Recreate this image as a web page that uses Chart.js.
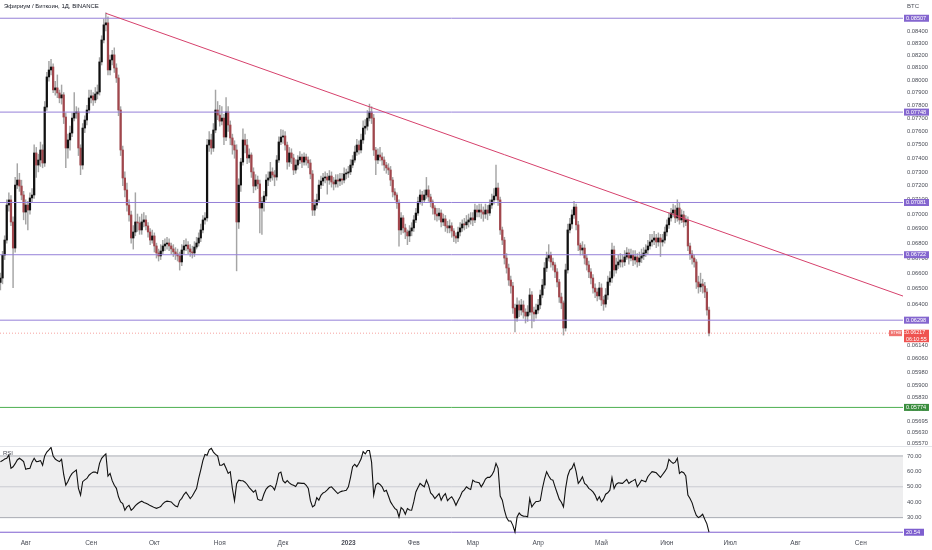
<!DOCTYPE html>
<html>
<head>
<meta charset="utf-8">
<script src="https://cdn.jsdelivr.net/npm/chart.js@4.4.0/dist/chart.umd.min.js"></script>
<style>
  html, body { margin: 0; padding: 0; background: #fff; }
</style>
</head>
<body>
<canvas id="chart" width="932" height="550"></canvas>
<script>
// daily candles, day numbers counted from 1 Aug 2022
const firstDay = -12;
const firstOpen = 0.06540;

const closes = [
  0.06568, 0.06720, 0.06821, 0.07063, 0.07099, 0.06945, 0.06767, 0.07205, 0.07241, 0.07198,
  0.07134, 0.07014, 0.07063, 0.07028, 0.07113, 0.07134, 0.07439, 0.07350, 0.07387, 0.07461,
  0.07365, 0.07787, 0.08024, 0.08080, 0.08104, 0.07921, 0.07937, 0.07897, 0.07858, 0.07882,
  0.07710, 0.07476, 0.07536, 0.07588, 0.07702, 0.07741, 0.07749, 0.07476, 0.07350, 0.07626,
  0.07687, 0.07764, 0.07858, 0.07874, 0.07842, 0.07889, 0.07905, 0.08145, 0.08325, 0.08451,
  0.08468, 0.08080, 0.08161, 0.08202, 0.08096, 0.08016, 0.07764, 0.07461, 0.07256, 0.07170,
  0.07063, 0.06994, 0.06835, 0.06876, 0.06945, 0.06938, 0.06890, 0.06945, 0.06959, 0.06918,
  0.06876, 0.06821, 0.06849, 0.06781, 0.06734, 0.06714, 0.06747, 0.06781, 0.06794, 0.06801,
  0.06781, 0.06761, 0.06741, 0.06727, 0.06714, 0.06674, 0.06754, 0.06781, 0.06787, 0.06761,
  0.06741, 0.06734, 0.06774, 0.06801, 0.06835, 0.06890, 0.06959, 0.06973, 0.07498, 0.07536,
  0.07476, 0.07611, 0.07764, 0.07725, 0.07679, 0.07702, 0.07558, 0.07749, 0.07649, 0.07551,
  0.07498, 0.07461, 0.06945, 0.07205, 0.07372, 0.07536, 0.07498, 0.07402, 0.07424, 0.07300,
  0.07198, 0.07241, 0.07213, 0.07042, 0.07085, 0.07127, 0.07241, 0.07256, 0.07300, 0.07278,
  0.07263, 0.07387, 0.07521, 0.07558, 0.07566, 0.07498, 0.07372, 0.07439, 0.07402, 0.07314,
  0.07350, 0.07387, 0.07409, 0.07372, 0.07409, 0.07387, 0.07365, 0.07285, 0.07028, 0.07063,
  0.07099, 0.07205, 0.07234, 0.07256, 0.07263, 0.07241, 0.07270, 0.07227, 0.07213, 0.07241,
  0.07234, 0.07249, 0.07241, 0.07285, 0.07292, 0.07300, 0.07350, 0.07387, 0.07446, 0.07498,
  0.07461, 0.07536, 0.07626, 0.07640, 0.07702, 0.07749, 0.07702, 0.07461, 0.07387, 0.07424,
  0.07409, 0.07387, 0.07350, 0.07329, 0.07314, 0.07241, 0.07156, 0.07134, 0.07077, 0.06890,
  0.06973, 0.06904, 0.06876, 0.06849, 0.06883, 0.06904, 0.06959, 0.07007, 0.07085, 0.07134,
  0.07099, 0.07134, 0.07170, 0.07120, 0.07085, 0.07042, 0.07000, 0.06987, 0.07007, 0.06945,
  0.06966, 0.06918, 0.06904, 0.06918, 0.06883, 0.06849, 0.06835, 0.06876, 0.06904, 0.06931,
  0.06925, 0.06945, 0.06959, 0.06973, 0.06959, 0.07028, 0.07014, 0.07028, 0.07014, 0.07000,
  0.07028, 0.07007, 0.07063, 0.07099, 0.07127, 0.07184, 0.07099, 0.06890, 0.06821, 0.06700,
  0.06634, 0.06555, 0.06516, 0.06375, 0.06312, 0.06394, 0.06362, 0.06394, 0.06349, 0.06324,
  0.06349, 0.06458, 0.06349, 0.06337, 0.06362, 0.06394, 0.06458, 0.06522, 0.06634, 0.06700,
  0.06720, 0.06674, 0.06654, 0.06608, 0.06542, 0.06445, 0.06407, 0.06249, 0.06621, 0.06890,
  0.06931, 0.06994, 0.07049, 0.06925, 0.06787, 0.06754, 0.06767, 0.06700, 0.06654, 0.06608,
  0.06568, 0.06503, 0.06477, 0.06452, 0.06503, 0.06426, 0.06400, 0.06458, 0.06542, 0.06568,
  0.06754, 0.06621, 0.06654, 0.06674, 0.06687, 0.06674, 0.06707, 0.06734, 0.06700, 0.06720,
  0.06687, 0.06707, 0.06674, 0.06700, 0.06714, 0.06734, 0.06754, 0.06781, 0.06808, 0.06821,
  0.06835, 0.06808, 0.06835, 0.06808, 0.06821, 0.06876, 0.06925, 0.06973, 0.07007, 0.07028,
  0.06973, 0.07042, 0.06959, 0.06994, 0.06945, 0.06959, 0.06781, 0.06727, 0.06700, 0.06674,
  0.06542, 0.06510, 0.06529, 0.06516, 0.06477, 0.06362, 0.06217
];

const highs = [
  0.06600, 0.06745, 0.06850, 0.07100, 0.07150, 0.07130, 0.06980, 0.07260, 0.07360, 0.07290,
  0.07240, 0.07160, 0.07100, 0.07090, 0.07150, 0.07180, 0.07500, 0.07480, 0.07430, 0.07520,
  0.07500, 0.07830, 0.08060, 0.08150, 0.08165, 0.08130, 0.07990, 0.08040, 0.07920, 0.07960,
  0.07900, 0.07740, 0.07580, 0.07640, 0.07740, 0.07900, 0.07790, 0.07780, 0.07500, 0.07660,
  0.07720, 0.07800, 0.07920, 0.07920, 0.07900, 0.07940, 0.07960, 0.08180, 0.08360, 0.08500,
  0.08554, 0.08520, 0.08200, 0.08240, 0.08260, 0.08130, 0.08040, 0.07790, 0.07490, 0.07300,
  0.07220, 0.07100, 0.07020, 0.06920, 0.07150, 0.07000, 0.06980, 0.07000, 0.07010, 0.06990,
  0.06940, 0.06900, 0.06890, 0.06870, 0.06800, 0.06760, 0.06790, 0.06820, 0.06830, 0.06840,
  0.06830, 0.06800, 0.06790, 0.06770, 0.06760, 0.06740, 0.06790, 0.06820, 0.06830, 0.06810,
  0.06790, 0.06780, 0.06810, 0.06840, 0.06870, 0.06930, 0.06990, 0.07010, 0.07540, 0.07600,
  0.07580, 0.07660, 0.07920, 0.07830, 0.07800, 0.07790, 0.07730, 0.07860, 0.07790, 0.07680,
  0.07580, 0.07530, 0.07500, 0.07250, 0.07400, 0.07620, 0.07580, 0.07540, 0.07470, 0.07440,
  0.07330, 0.07280, 0.07270, 0.07240, 0.07120, 0.07160, 0.07280, 0.07300, 0.07370, 0.07330,
  0.07310, 0.07420, 0.07560, 0.07615, 0.07610, 0.07600, 0.07520, 0.07480, 0.07470, 0.07430,
  0.07390, 0.07420, 0.07450, 0.07430, 0.07440, 0.07430, 0.07410, 0.07390, 0.07310, 0.07100,
  0.07140, 0.07240, 0.07270, 0.07290, 0.07300, 0.07290, 0.07310, 0.07300, 0.07260, 0.07280,
  0.07280, 0.07290, 0.07290, 0.07330, 0.07320, 0.07340, 0.07390, 0.07420, 0.07490, 0.07540,
  0.07530, 0.07580, 0.07680, 0.07690, 0.07760, 0.07810, 0.07790, 0.07730, 0.07480, 0.07470,
  0.07480, 0.07440, 0.07410, 0.07370, 0.07360, 0.07340, 0.07260, 0.07180, 0.07150, 0.07100,
  0.07010, 0.06990, 0.06930, 0.06890, 0.06920, 0.06940, 0.06990, 0.07040, 0.07120, 0.07170,
  0.07160, 0.07170, 0.07260, 0.07200, 0.07140, 0.07100, 0.07060, 0.07040, 0.07040, 0.07030,
  0.07000, 0.06990, 0.06950, 0.06960, 0.06940, 0.06900, 0.06870, 0.06910, 0.06940, 0.06960,
  0.06970, 0.06990, 0.07000, 0.07010, 0.07010, 0.07070, 0.07060, 0.07070, 0.07070, 0.07050,
  0.07070, 0.07060, 0.07100, 0.07140, 0.07180, 0.07350, 0.07220, 0.07120, 0.06910, 0.06840,
  0.06730, 0.06660, 0.06580, 0.06540, 0.06400, 0.06440, 0.06420, 0.06430, 0.06420, 0.06370,
  0.06390, 0.06500, 0.06480, 0.06380, 0.06400, 0.06430, 0.06490, 0.06560, 0.06670, 0.06740,
  0.06790, 0.06740, 0.06700, 0.06670, 0.06630, 0.06560, 0.06470, 0.06420, 0.06660, 0.06930,
  0.06970, 0.07030, 0.07090, 0.07070, 0.06950, 0.06800, 0.06810, 0.06790, 0.06720, 0.06680,
  0.06630, 0.06590, 0.06530, 0.06500, 0.06540, 0.06530, 0.06450, 0.06500, 0.06580, 0.06610,
  0.06800, 0.06780, 0.06700, 0.06720, 0.06730, 0.06720, 0.06750, 0.06770, 0.06760, 0.06760,
  0.06750, 0.06750, 0.06730, 0.06740, 0.06760, 0.06770, 0.06790, 0.06820, 0.06860, 0.06860,
  0.06880, 0.06860, 0.06870, 0.06860, 0.06860, 0.06910, 0.06960, 0.07010, 0.07040, 0.07070,
  0.07060, 0.07100, 0.07080, 0.07030, 0.07020, 0.06990, 0.06980, 0.06800, 0.06750, 0.06720,
  0.06690, 0.06580, 0.06600, 0.06560, 0.06540, 0.06500, 0.06380
];

const lows = [
  0.06490, 0.06530, 0.06690, 0.06800, 0.07020, 0.06920, 0.06505, 0.06740, 0.07180, 0.07160,
  0.07100, 0.06960, 0.06930, 0.06890, 0.07000, 0.07080, 0.07110, 0.07260, 0.07300, 0.07340,
  0.07330, 0.07340, 0.07760, 0.07990, 0.08040, 0.07900, 0.07880, 0.07860, 0.07820, 0.07810,
  0.07660, 0.07330, 0.07400, 0.07460, 0.07560, 0.07680, 0.07700, 0.07420, 0.07280, 0.07320,
  0.07590, 0.07650, 0.07740, 0.07820, 0.07800, 0.07820, 0.07850, 0.07880, 0.08120, 0.08300,
  0.08400, 0.08040, 0.08040, 0.08120, 0.08060, 0.07980, 0.07720, 0.07420, 0.07200, 0.07120,
  0.07020, 0.06950, 0.06800, 0.06760, 0.06850, 0.06880, 0.06860, 0.06860, 0.06910, 0.06890,
  0.06840, 0.06790, 0.06800, 0.06740, 0.06700, 0.06680, 0.06690, 0.06730, 0.06750, 0.06760,
  0.06750, 0.06730, 0.06710, 0.06690, 0.06680, 0.06620, 0.06650, 0.06730, 0.06750, 0.06730,
  0.06710, 0.06700, 0.06710, 0.06760, 0.06780, 0.06810, 0.06870, 0.06930, 0.06950, 0.07450,
  0.07430, 0.07450, 0.07590, 0.07690, 0.07640, 0.07650, 0.07500, 0.07530, 0.07600, 0.07500,
  0.07430, 0.07400, 0.06615, 0.06900, 0.07160, 0.07350, 0.07440, 0.07360, 0.07370, 0.07260,
  0.07150, 0.07170, 0.07180, 0.06870, 0.06860, 0.07020, 0.07100, 0.07200, 0.07230, 0.07240,
  0.07200, 0.07240, 0.07370, 0.07500, 0.07510, 0.07460, 0.07320, 0.07340, 0.07360, 0.07280,
  0.07290, 0.07320, 0.07360, 0.07330, 0.07350, 0.07350, 0.07330, 0.07250, 0.06990, 0.06990,
  0.07040, 0.07080, 0.07180, 0.07200, 0.07220, 0.07140, 0.07210, 0.07190, 0.07170, 0.07190,
  0.07190, 0.07200, 0.07210, 0.07220, 0.07250, 0.07260, 0.07280, 0.07330, 0.07370, 0.07420,
  0.07430, 0.07440, 0.07510, 0.07580, 0.07610, 0.07680, 0.07660, 0.07420, 0.07280, 0.07360,
  0.07380, 0.07350, 0.07310, 0.07290, 0.07280, 0.07200, 0.07120, 0.07100, 0.07040, 0.06780,
  0.06860, 0.06870, 0.06830, 0.06790, 0.06810, 0.06850, 0.06880, 0.06940, 0.06990, 0.07070,
  0.07060, 0.07080, 0.07110, 0.07090, 0.07050, 0.07000, 0.06960, 0.06950, 0.06960, 0.06910,
  0.06920, 0.06880, 0.06870, 0.06870, 0.06840, 0.06810, 0.06800, 0.06810, 0.06850, 0.06880,
  0.06890, 0.06900, 0.06910, 0.06930, 0.06920, 0.06940, 0.06980, 0.06980, 0.06970, 0.06950,
  0.06970, 0.06960, 0.06990, 0.07040, 0.07070, 0.07100, 0.07060, 0.06860, 0.06790, 0.06660,
  0.06600, 0.06520, 0.06470, 0.06340, 0.06225, 0.06290, 0.06320, 0.06330, 0.06310, 0.06280,
  0.06290, 0.06330, 0.06250, 0.06290, 0.06310, 0.06340, 0.06370, 0.06440, 0.06500, 0.06610,
  0.06680, 0.06640, 0.06620, 0.06570, 0.06510, 0.06410, 0.06370, 0.06205, 0.06230, 0.06600,
  0.06870, 0.06900, 0.06970, 0.06890, 0.06750, 0.06720, 0.06720, 0.06660, 0.06620, 0.06570,
  0.06530, 0.06470, 0.06440, 0.06420, 0.06430, 0.06390, 0.06360, 0.06380, 0.06430, 0.06520,
  0.06540, 0.06580, 0.06600, 0.06630, 0.06640, 0.06640, 0.06650, 0.06690, 0.06660, 0.06680,
  0.06650, 0.06660, 0.06640, 0.06650, 0.06670, 0.06690, 0.06710, 0.06730, 0.06760, 0.06780,
  0.06790, 0.06770, 0.06780, 0.06710, 0.06780, 0.06800, 0.06850, 0.06900, 0.06950, 0.06980,
  0.06940, 0.06950, 0.06930, 0.06940, 0.06910, 0.06920, 0.06750, 0.06690, 0.06660, 0.06640,
  0.06500, 0.06470, 0.06480, 0.06470, 0.06440, 0.06330, 0.06200
];

const rsiValues = [
  66.3, 67, 68, 68.5, 70.6, 62, 63, 65, 67.4, 68.5,
  67.5, 66.3, 61.3, 61.8, 62, 66, 68.5, 66.3, 66.5, 67,
  64, 70, 72.5, 74, 75.6, 70, 68, 67, 66.3, 67.8,
  58, 51.1, 53.5, 56.5, 58.7, 59.8, 60.9, 48.9, 44.6, 53.3,
  54.5, 55.4, 57.5, 58.7, 59.5, 59.5, 58.7, 65.2, 68.5, 70,
  71.3, 57, 58.7, 54, 51, 49, 43.5, 40.2, 39.1, 34.8,
  37, 38, 34.8, 36, 37.8, 39, 40, 40.7, 39.8, 39.3,
  38.7, 37.8, 37.2, 36.5, 36, 36.5, 37.2, 39, 40.2, 40.7,
  40.5, 40.2, 38.8, 37.5, 37, 41, 42.5, 45, 46.5, 44.5,
  42.4, 44, 46.5, 48.9, 55.4, 61, 67, 71, 70.5, 74,
  75, 72.5, 71, 70, 64, 64, 65, 62, 58.7, 59.8,
  48.9, 41, 52, 54.3, 54, 53.9, 53, 51.5, 49.5, 48,
  46.5, 47.8, 42, 41.3, 41.3, 45.5, 48.5, 50, 50.8, 50,
  48, 52.5, 58.7, 59.5, 54, 52.5, 54, 52.5, 51.5, 51,
  50.2, 52.5, 52.4, 52.2, 52.2, 51, 48.9, 41, 37, 38,
  43, 41.3, 44.5, 46, 46.7, 48, 49.5, 50, 48.5, 47,
  45.6, 46.7, 47.2, 47.4, 47.8, 50, 56, 63, 64.5, 63,
  65.2, 68, 72.8, 71.3, 73.5, 73.5, 66, 44.6, 51.1, 52.5,
  51.5, 50, 47, 47.8, 44, 40.2, 38, 36, 35, 30.4,
  36.5, 35.2, 32.2, 35.9, 35, 34.8, 40.2, 46.7, 49.5, 52.2,
  51, 50, 54.3, 51.1, 46, 44.6, 42.4, 44, 45.6, 41.3,
  44, 45.6, 41, 42.5, 43.5, 41.3, 38, 41, 43.5, 46.7,
  48, 50, 48.9, 48.3, 54.3, 53.3, 53, 52.6, 50, 52.2,
  55, 56.2, 56.1, 57.5, 60, 65.2, 62, 44, 41.3, 34.8,
  30, 27.8, 27.8, 25, 20.7, 30.4, 33, 31.5, 31, 30.9,
  30.5, 42.4, 37, 39, 40.5, 40.5, 41, 48.9, 55, 59.8,
  57, 54.8, 54.3, 50, 46, 42, 40, 37, 48.9, 57,
  60.9, 62, 65.2, 59.8, 52.2, 54, 56.5, 52.2, 51.1, 49,
  48, 46.7, 44.6, 41.3, 43.5, 40.2, 42, 45.2, 46.1, 47.8,
  55.9, 48.9, 51.7, 52.6, 52.4, 52.2, 53.5, 54.8, 52.2, 53.3,
  54, 54.8, 50, 52, 54.3, 53.8, 53.3, 56.5, 58.3, 59.8,
  59.5, 59.1, 57.6, 56.1, 58, 59.8, 62, 67.8, 66.3, 65.2,
  66, 68.5, 58.7, 59.8, 59.1, 57, 44.6, 42.4, 39.6, 35,
  31.5, 30, 30.9, 32.2, 29, 26, 20.54
];

const monthDays = [0, 31, 61, 92, 122, 153, 184, 212, 243, 273, 304, 334, 365, 396];
const monthLabels = ['Авг', 'Сен', 'Окт', 'Ноя', 'Дек', '2023', 'Фев', 'Мар', 'Апр', 'Май', 'Июн', 'Июл', 'Авг', 'Сен'];
const priceTicks = [0.08400, 0.08300, 0.08200, 0.08100, 0.08000, 0.07900, 0.07800, 0.07700, 0.07600,
  0.07500, 0.07400, 0.07300, 0.07200, 0.07100, 0.07000, 0.06900, 0.06800, 0.06700, 0.06600, 0.06500,
  0.06400, 0.06300, 0.06140, 0.06060, 0.05980, 0.05900, 0.05830, 0.05760, 0.05695, 0.05630, 0.05570];
const rsiTicks = [30, 40, 50, 60, 70];
const rsiBands = [70, 50, 30];

const levels = [0.08507, 0.07748, 0.07081, 0.06722, 0.06298];
const supportLevel = 0.05774;
const lastPrice = 0.06217;
const rsiLast = 20.54;
const trendLine = [{ x: 38, y: 0.08549 }, { x: 416, y: 0.06451 }];

// visible ranges
const dayMin = -12.2, dayMax = 416;
const priceMin = 0.05080, priceMax = 0.08663;
const rsiMin = 18.1, rsiMax = 365.6;
const rsiPaneTop = 76.5;

const UP = '#111111';
const DOWN = '#a1464c';
const WICK = '#a5a5a5';
const PURPLE = '#9580d8';
const PURPLE_TAG = '#8466cf';
const GREEN = '#4caf50';
const FONT = "'Liberation Sans', Arial, sans-serif";

const days = closes.map((c, i) => firstDay + i);
const opens = closes.map((c, i) => (i === 0 ? firstOpen : closes[i - 1]));

const flat = y => [{ x: dayMin, y: y }, { x: dayMax, y: y }];

const lineSet = (data, color, extra) => Object.assign({
  type: 'line',
  data: data,
  borderColor: color,
  borderWidth: 1,
  pointRadius: 0,
  tension: 0,
  fill: false,
  yAxisID: 'y',
  order: 2
}, extra || {});

const datasets = [
  {
    type: 'bar',
    data: days.map((d, i) => ({ x: d, y: [lows[i], highs[i]] })),
    backgroundColor: WICK,
    barThickness: 0.8,
    grouped: false,
    borderWidth: 0,
    yAxisID: 'y',
    order: 6
  },
  {
    type: 'bar',
    data: days.map((d, i) => ({ x: d, y: [opens[i], closes[i]] })),
    backgroundColor: closes.map((c, i) => (c >= opens[i] ? UP : DOWN)),
    barThickness: 1.6,
    minBarLength: 1,
    grouped: false,
    borderWidth: 0,
    yAxisID: 'y',
    order: 5
  },
  lineSet(flat(lastPrice), 'rgba(239,83,80,0.55)', { borderDash: [1, 2], order: 7 }),
  lineSet(trendLine, '#d6416c', { order: 1 }),
  lineSet(flat(supportLevel), GREEN, { order: 3 }),
  ...levels.map(v => lineSet(flat(v), PURPLE, { order: 3 })),
  // RSI pane
  lineSet(flat(rsiBands[0]), '#a8abb3', { yAxisID: 'rsi', fill: { value: rsiBands[2] }, backgroundColor: 'rgba(120,120,128,0.13)', order: 9 }),
  lineSet(flat(rsiBands[1]), '#c9cbd1', { yAxisID: 'rsi', order: 8 }),
  lineSet(flat(rsiBands[2]), '#a8abb3', { yAxisID: 'rsi', order: 8 }),
  lineSet(flat(rsiLast), '#7e5fcf', { yAxisID: 'rsi', order: 3 }),
  lineSet(days.map((d, i) => ({ x: d, y: rsiValues[i] })), '#111111', { yAxisID: 'rsi', borderWidth: 1.1, order: 1 })
];

const noPad = scale => {
  scale.paddingTop = 0;
  scale.paddingBottom = 0;
  scale.paddingLeft = 0;
  scale.paddingRight = 0;
};

function tag(ctx, x, y, w, h, color, lines, size) {
  ctx.fillStyle = color;
  ctx.fillRect(x, y - h / 2, w, h);
  ctx.fillStyle = '#ffffff';
  ctx.font = size + 'px ' + FONT;
  ctx.textBaseline = 'middle';
  ctx.textAlign = 'left';
  const step = h / lines.length;
  lines.forEach((t, k) => ctx.fillText(t, x + 2, y - h / 2 + step * (k + 0.5)));
}

const overlay = {
  id: 'overlay',
  beforeDraw(chart) {
    // the RSI axis shares the price axis column: widen its label clip area
    const rs = chart.scales.rsi;
    rs.left = chart.chartArea.right;
    rs.right = chart.width;
  },
  afterDraw(chart) {
    const ctx = chart.ctx;
    const area = chart.chartArea;
    const py = chart.scales.y;
    const ry = chart.scales.rsi;
    const W = chart.width;
    ctx.save();

    // pane separator
    const sep = Math.round(ry.getPixelForValue(rsiPaneTop)) + 0.5;
    ctx.strokeStyle = '#e3e5ea';
    ctx.lineWidth = 1;
    ctx.beginPath();
    ctx.moveTo(0, sep);
    ctx.lineTo(W, sep);
    ctx.stroke();

    ctx.fillStyle = '#131722';
    ctx.font = '6px ' + FONT;
    ctx.textBaseline = 'middle';
    ctx.textAlign = 'left';
    ctx.fillText('Эфириум / Биткоин, 1Д, BINANCE', 4, 6);
    ctx.fillStyle = '#4a4d57';
    ctx.fillText('BTC', 907, 6);
    ctx.fillText('RSI', 3, sep + 7);

    const tx = area.right + 1;
    levels.forEach(v => tag(ctx, tx, py.getPixelForValue(v), 25, 7, PURPLE_TAG, [v.toFixed(5)], 5.6));
    tag(ctx, tx, py.getPixelForValue(supportLevel), 25, 7, '#3b8e3f', [supportLevel.toFixed(5)], 5.6);
    const ly = py.getPixelForValue(lastPrice);
    tag(ctx, tx, ly + 2.8, 25, 12.5, '#ef5350', [lastPrice.toFixed(5), '06:10:55'], 5.3);
    tag(ctx, area.right - 14, ly, 13, 6, '#f07370', ['ETHBTC'], 3.8);
    tag(ctx, tx, ry.getPixelForValue(rsiLast), 20, 7, '#7e5fcf', [rsiLast.toFixed(2)], 5.6);
    ctx.restore();
  }
};

new Chart(document.getElementById('chart'), {
  type: 'bar',
  data: { datasets: datasets },
  options: {
    responsive: false,
    animation: false,
    layout: { padding: 0, autoPadding: false },
    plugins: { legend: { display: false }, tooltip: { enabled: false } },
    scales: {
      x: {
        type: 'linear',
        min: dayMin,
        max: dayMax,
        offset: false,
        grid: { display: false, drawTicks: false, offset: false },
        border: { display: false },
        afterBuildTicks: scale => { scale.ticks = monthDays.map(v => ({ value: v })); },
        afterFit: scale => { scale.height = 14; noPad(scale); },
        ticks: {
          padding: 3,
          maxRotation: 0,
          autoSkip: false,
          color: '#4a4d57',
          font: ctx => ({ size: 6.5, family: FONT, weight: ctx.tick && ctx.tick.value === 153 ? 'bold' : 'normal' }),
          callback: v => monthLabels[monthDays.indexOf(v)]
        }
      },
      rsi: {
        type: 'linear',
        position: 'right',
        weight: 0,
        min: rsiMin,
        max: rsiMax,
        grid: { display: false, drawTicks: false },
        border: { display: false },
        afterBuildTicks: scale => { scale.ticks = rsiTicks.map(v => ({ value: v })); },
        afterFit: scale => { scale.width = 0; noPad(scale); },
        ticks: {
          padding: 4,
          color: '#4a4d57',
          font: { size: 5.8, family: FONT },
          callback: v => v.toFixed(2)
        }
      },
      y: {
        type: 'logarithmic',
        position: 'right',
        weight: 1,
        min: priceMin,
        max: priceMax,
        bounds: 'data',
        grid: { display: false, drawTicks: false },
        border: { display: false },
        afterBuildTicks: scale => { scale.ticks = priceTicks.map(v => ({ value: v })); },
        afterFit: scale => { scale.width = 29; noPad(scale); },
        ticks: {
          padding: 4,
          autoSkip: false,
          color: '#4a4d57',
          font: { size: 5.8, family: FONT },
          callback: v => v.toFixed(5)
        }
      }
    }
  },
  plugins: [overlay]
});
</script>
</body>
</html>
